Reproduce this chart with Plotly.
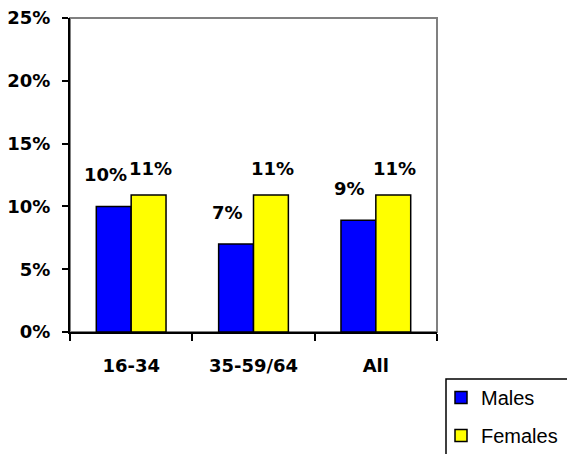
import plotly.graph_objects as go

categories = ["16-34", "35-59/64", "All"]
males = [10.0, 7.0, 8.9]
females = [10.9, 10.9, 10.9]
males_labels = ["10%", "7%", "9%"]
females_labels = ["11%", "11%", "11%"]
y_ticks = [0, 5, 10, 15, 20, 25]
y_ticktext = ["0%", "5%", "10%", "15%", "20%", "25%"]

FONT = dict(family="DejaVu Sans", size=18, color="black", weight="bold")

fig = go.Figure()
fig.add_bar(x=categories, y=males, name="Males", legendgroup="m",
            marker=dict(color="#0000FF", line=dict(color="black", width=1.5)))
fig.add_bar(x=categories, y=females, name="Females", legendgroup="f",
            marker=dict(color="#FFFF00", line=dict(color="black", width=1.5)))

for cat, v, t in zip(categories, males, males_labels):
    fig.add_annotation(x=cat, y=v, text=t, xref="x", yref="y", showarrow=False,
                       xshift=-26, yshift=32, font=FONT)
for cat, v, t in zip(categories, females, females_labels):
    fig.add_annotation(x=cat, y=v, text=t, xref="x", yref="y", showarrow=False,
                       xshift=19, yshift=27, font=FONT)

# plot frame (grey top/right)
fig.add_shape(type="rect", xref="paper", yref="paper", x0=0, y0=0, x1=1, y1=1,
              line=dict(color="#808080", width=2), layer="below")
# legend box
fig.add_shape(type="rect", xref="paper", yref="paper",
              x0=(446 - 70) / 367, x1=(580 - 70) / 367,
              y0=(332 - 470) / 314, y1=(332 - 379) / 314,
              line=dict(color="black", width=1.5), fillcolor="rgba(0,0,0,0)")

fig.update_layout(
    width=567, height=454,
    margin=dict(l=70, r=130, t=18, b=122, autoexpand=False),
    paper_bgcolor="white", plot_bgcolor="white",
    barmode="group", bargap=0.43, bargroupgap=0,
    font=FONT,
    legend=dict(x=(441 - 70) / 367, y=(332 - 378) / 314, xanchor="left", yanchor="top",
                borderwidth=0, bgcolor="rgba(0,0,0,0)",
                font=dict(family="Liberation Sans", size=20, color="black", weight="normal"),
                itemwidth=30, tracegroupgap=9),
    xaxis=dict(type="category", showline=True, linecolor="black", linewidth=2,
               ticks="outside", tickson="boundaries", ticklen=7, tickwidth=2,
               tickcolor="black", showgrid=False, ticklabelstandoff=16,
               tickfont=FONT, automargin=False),
    yaxis=dict(range=[0, 25], tickvals=y_ticks, ticktext=y_ticktext,
               showline=True, linecolor="black", linewidth=2,
               ticks="outside", ticklen=6, tickwidth=2, tickcolor="black",
               showgrid=False, zeroline=False, ticklabelstandoff=8,
               tickfont=FONT, automargin=False),
)

fig.write_html("out.html", config={"displayModeBar": False},
               post_script="document.body.style.margin='0';")
